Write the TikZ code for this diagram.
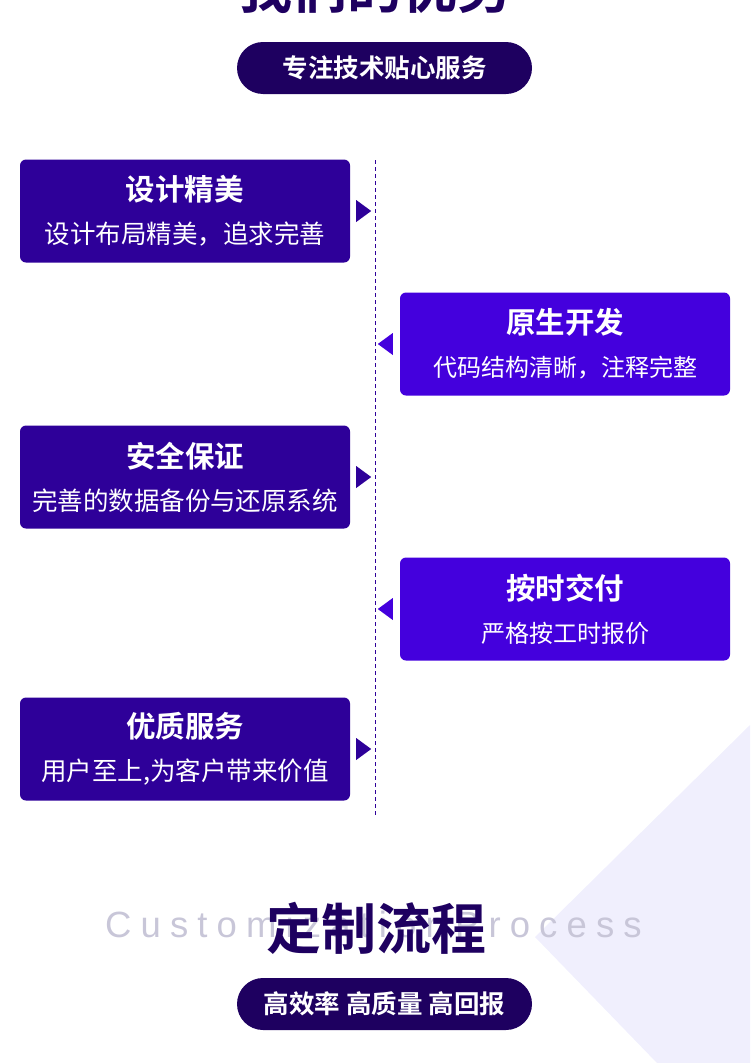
\documentclass[tikz,border=0pt]{standalone}
\usepackage{fontspec}
\setmainfont{Noto Sans CJK SC}[BoldFont={* Bold}]
\newfontfamily\bgfont[LetterSpace=25]{Liberation Sans}
\definecolor{leftfill}{RGB}{46,0,153}
\definecolor{rightfill}{RGB}{68,0,221}
\definecolor{pillfill}{RGB}{30,0,96}
\definecolor{bgtext}{RGB}{200,198,216}
\definecolor{lavender}{RGB}{240,239,253}
\begin{document}
\begin{tikzpicture}[x=1pt,y=-1pt,
    leftbox/.style={fill=leftfill,text=white,rounded corners=6pt,minimum width=330pt,minimum height=103pt,align=center,inner sep=0pt,font=\fontsize{25.5}{43}\selectfont},
    rightbox/.style={leftbox,fill=rightfill,font=\fontsize{24}{43}\selectfont},
    pill/.style={fill=pillfill,text=white,rounded corners=26pt,minimum width=295pt,minimum height=52pt,inner sep=0pt,font=\fontsize{25.5}{30}\selectfont\bfseries},
    bigtitle/.style={text=pillfill,inner sep=0pt,font=\fontsize{55}{60}\selectfont\bfseries}]
\useasboundingbox (0,0) rectangle (750,1063);
\fill[lavender] (750,725) -- (535,937) -- (657,1063) -- (750,1063) -- cycle;

\node[bigtitle] (advtitle) at (375,-12) {我们的优势};
\node[pill] (advpill) at (384.5,68) {专注技术贴心服务};

\coordinate (linetop) at (375,160);
\coordinate (linebot) at (375,815);
\draw[leftfill,line width=1pt,dash pattern=on 4pt off 3pt] (linetop) -- (linebot);

\node[leftbox] (design) at (185,211) {{\fontsize{29.5}{43}\selectfont\bfseries 设计精美}\\设计布局精美，追求完善};
\node[rightbox] (native) at (565,344) {{\fontsize{29.5}{43}\selectfont\bfseries 原生开发}\\代码结构清晰，注释完整};
\node[leftbox] (safety) at (185,477) {{\fontsize{29.5}{43}\selectfont\bfseries 安全保证}\\完善的数据备份与还原系统};
\node[rightbox] (ontime) at (565,609) {{\fontsize{29.5}{43}\selectfont\bfseries 按时交付}\\严格按工时报价};
\node[leftbox] (service) at (185,749) {{\fontsize{29.5}{43}\selectfont\bfseries 优质服务}\\用户至上,为客户带来价值};

\foreach \n in {design,safety,service}
    \fill[leftfill] ([xshift=6pt,yshift=11pt]\n.east) -- ([xshift=21pt]\n.east) -- ([xshift=6pt,yshift=-11pt]\n.east) -- cycle;
\foreach \n in {native,ontime}
    \fill[rightfill] ([xshift=-7pt,yshift=11pt]\n.west) -- ([xshift=-22pt]\n.west) -- ([xshift=-7pt,yshift=-11pt]\n.west) -- cycle;

\node[anchor=base west,inner sep=0pt,text=bgtext,font=\fontsize{36.5}{40}\bgfont] (bgword) at (105,937) {CustomizationProcess};
\node[bigtitle] (flowtitle) at (376,928.5) {定制流程};
\node[pill] (flowpill) at (384.5,1004) {高效率 高质量 高回报};
\end{tikzpicture}
\end{document}
